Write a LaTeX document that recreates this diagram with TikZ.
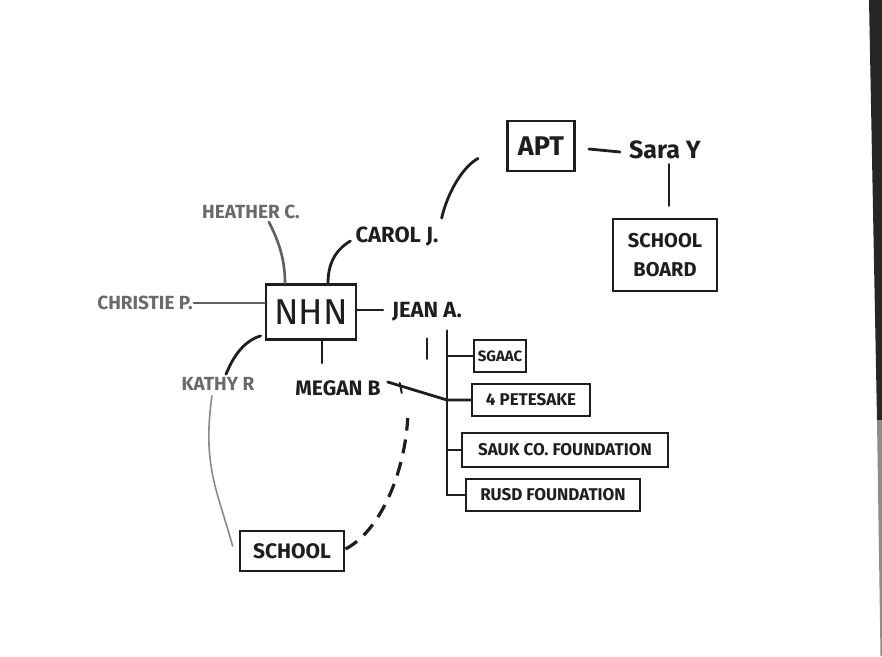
\documentclass[tikz,border=0pt]{standalone}
\usepackage{fontspec}
\setmainfont{Fira Sans}
\definecolor{inkc}{HTML}{1E1E1E}
\definecolor{graytext}{HTML}{6A6A6A}
\definecolor{pencil}{HTML}{8A8A8A}
\begin{document}
\begin{tikzpicture}[x=1pt,y=-1pt,
  ink/.style={draw=inkc, line width=2.8pt, line cap=round},
  grayink/.style={draw=graytext!90!black, line width=2.6pt, line cap=round},
  box/.style={draw=inkc, line width=2.8pt, inner sep=0pt, text=inkc, font=\bfseries\fontsize{19}{22}\selectfont},
  lbl/.style={inner sep=1pt, text=inkc, font=\bfseries\fontsize{22}{24}\selectfont},
  glbl/.style={lbl, text=graytext},
  dashink/.style={draw=inkc, line width=3.2pt, dash pattern=on 14pt off 9pt}]
\useasboundingbox (0,0) rectangle (882,656);
\fill[white] (0,0) rectangle (882,656);
% dark edge of the sheet on the right
\fill[black!85] (869,0) -- (882,0) -- (882,420) -- (877,420) -- cycle;
\fill[black!45] (877,420) -- (882,420) -- (882,656) -- (880.5,656) -- cycle;

% nodes
\node[box, minimum width=90, minimum height=55, font=\fontsize{36}{38}\selectfont] (nhn) at (311,312) {NHN};
\node[glbl, font=\bfseries\fontsize{19}{22}\selectfont] (heather) at (251,212) {HEATHER C.};
\node[lbl] (carol) at (397,237) {CAROL J.};
\node[glbl, font=\bfseries\fontsize{19}{22}\selectfont] (christie) at (145,303) {CHRISTIE P.};
\node[lbl] (jean) at (427,312) {JEAN A.};
\node[glbl, font=\bfseries\fontsize{19}{22}\selectfont] (kathy) at (218,384) {KATHY R};
\node[lbl, font=\bfseries\fontsize{21}{22}\selectfont] (megan) at (338,388) {MEGAN B};
\node[box, minimum width=67, minimum height=50, font=\bfseries\fontsize{27}{28}\selectfont] (apt) at (541,146) {APT};
\node[lbl, font=\bfseries\fontsize{25}{26}\selectfont] (sara) at (665,150) {Sara Y};
\node[box, minimum width=104, minimum height=72, align=center, font=\bfseries\fontsize{20}{29}\selectfont] (board) at (665,255) {SCHOOL\\BOARD};
\node[box, minimum width=52, minimum height=32, font=\bfseries\fontsize{15}{18}\selectfont] (sgaac) at (500,356) {SGAAC};
\node[box, minimum width=118, minimum height=32, font=\bfseries\fontsize{17}{18}\selectfont] (pete) at (531,400) {4 PETESAKE};
\node[box, minimum width=206, minimum height=34, font=\bfseries\fontsize{17}{18}\selectfont] (sauk) at (565,450) {SAUK CO. FOUNDATION};
\node[box, minimum width=174, minimum height=32, font=\bfseries\fontsize{17}{18}\selectfont] (rusd) at (553,495) {RUSD FOUNDATION};
\node[box, minimum width=104, minimum height=40, font=\bfseries\fontsize{21}{22}\selectfont] (school) at (292,551) {SCHOOL};

% connectors around NHN
\draw[grayink] ([xshift=18pt,yshift=-2pt]heather.south) .. controls +(9,18) and +(0,-25) .. ([xshift=-26pt]nhn.north);
\draw[ink] ([xshift=-4pt,yshift=-4pt]carol.west) .. controls +(-10,6) and +(0,-25) .. ([xshift=17pt]nhn.north);
\draw[grayink] (christie.east) -- (christie.east -| nhn.west);
\draw[ink] ([yshift=2pt]nhn.east) -- ([xshift=-8pt,yshift=2pt]nhn.east -| jean.west);
\draw[ink] ([xshift=-4pt,yshift=5pt]nhn.south west) .. controls +(-20,6) and +(5,-12) .. ([xshift=8pt,yshift=2pt]kathy.north);
\draw[ink] ([xshift=11pt]nhn.south) -- ++(0,22);

% Carol J. -> APT -> Sara Y -> School Board
\draw[ink] ([xshift=2pt,yshift=8pt]carol.north east) .. controls +(6,-26) and +(-15,8) .. ([xshift=-28pt,yshift=14pt]apt.south west);
\draw[ink] ([xshift=13pt,yshift=-3pt]apt.east) -- ([xshift=-8pt,yshift=-2pt]sara.west);
\draw[ink] ([xshift=4pt,yshift=-4pt]sara.south) -- ([xshift=4pt,yshift=12pt]board.north);

% Jean A. trunk and branches
\coordinate (trunktop) at ([xshift=20pt,yshift=-8pt]jean.south);
\draw[ink] (trunktop) |- (rusd.west);
\draw[ink] (trunktop |- sgaac.west) -- (sgaac.west);
\draw[ink] (trunktop |- pete.west) -- (pete.west);
\draw[ink] (trunktop |- sauk.west) -- (sauk.west);
\draw[ink] ([xshift=0pt,yshift=-16pt]jean.south) -- ++(0,20);

% Megan B. -> 4 Petesake
\coordinate (mb) at ([xshift=6pt,yshift=6pt]megan.east);
\draw[ink] (mb) -- (trunktop |- pete.west) -- (pete.west);
\draw[ink, line width=2pt] ([xshift=12pt,yshift=-1pt]mb) -- ++(2,10);

% Kathy R. -> School (pencil), Megan B. -> School (dashed)
\draw[draw=pencil, line width=1.6pt, line cap=round] ([xshift=-6pt,yshift=-4pt]kathy.south) .. controls +(-10,70) and +(-15,-55) .. ([xshift=-6pt,yshift=5pt]school.west);
\draw[dashink] ([yshift=2pt]school.east) .. controls +(35,-18) and +(-3,55) .. ([xshift=26pt,yshift=-30pt]megan.east);
\end{tikzpicture}
\end{document}
